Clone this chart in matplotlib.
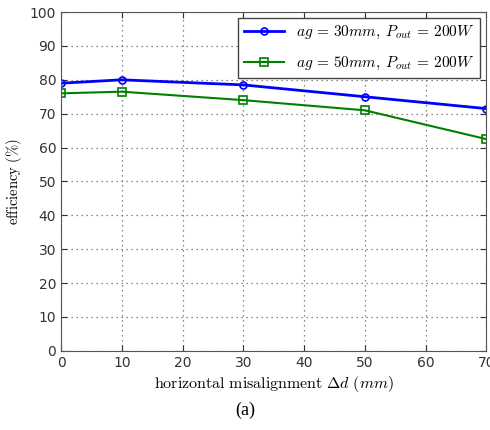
import matplotlib
matplotlib.use('Agg')
import matplotlib.pyplot as plt

plt.rcParams['mathtext.fontset'] = 'cm'

# data
misalign = [0, 10, 30, 50, 70]
eff_30mm = [79, 80, 78.5, 75, 71.5]
eff_50mm = [76, 76.5, 74, 71, 62.5]
xticks = [0, 10, 20, 30, 40, 50, 60, 70]
yticks = [0, 10, 20, 30, 40, 50, 60, 70, 80, 90, 100]

fig = plt.figure(figsize=(4.9, 4.3), dpi=100)
ax = fig.add_axes([0.1245, 0.184, 0.868, 0.788])

ax.plot(misalign, eff_30mm, color='blue', lw=2, marker='o', ms=5,
        mfc='none', mec='blue', mew=1.2,
        label=r'$ag\,=\,30mm,\;P_{out}\,=\,200W$')
ax.plot(misalign, eff_50mm, color='green', lw=1.5, marker='s', ms=6,
        mfc='none', mec='green', mew=1.2,
        label=r'$ag\,=\,50mm,\;P_{out}\,=\,200W$')

ax.set_xlim(0, 70)
ax.set_ylim(0, 100)
ax.set_xticks(xticks)
ax.set_yticks(yticks)
ax.tick_params(direction='in', labelsize=10, colors='#333333', length=4,
               top=True, right=True)
ax.grid(True, linestyle=(0, (1, 3)), color='#666666', lw=0.9)
for s in ax.spines.values():
    s.set_color('#555555')

ax.set_xlabel(r'$\mathrm{horizontal\ misalignment\ }\Delta d\ (mm)$',
              fontsize=11.5, labelpad=3)
ax.set_ylabel(r'$\mathrm{efficiency\ (\%)}$', fontsize=10.5, labelpad=4)

leg = ax.legend(loc='upper right', fontsize=11, fancybox=False,
                edgecolor='#444444', framealpha=1, borderaxespad=0.4,
                handlelength=2.6, labelspacing=0.9)
leg.get_frame().set_linewidth(1.0)

fig.text(0.5, 0.045, '(a)', ha='center', va='center', fontsize=13,
         family='Liberation Serif')

fig.savefig('out.png', dpi=100)
